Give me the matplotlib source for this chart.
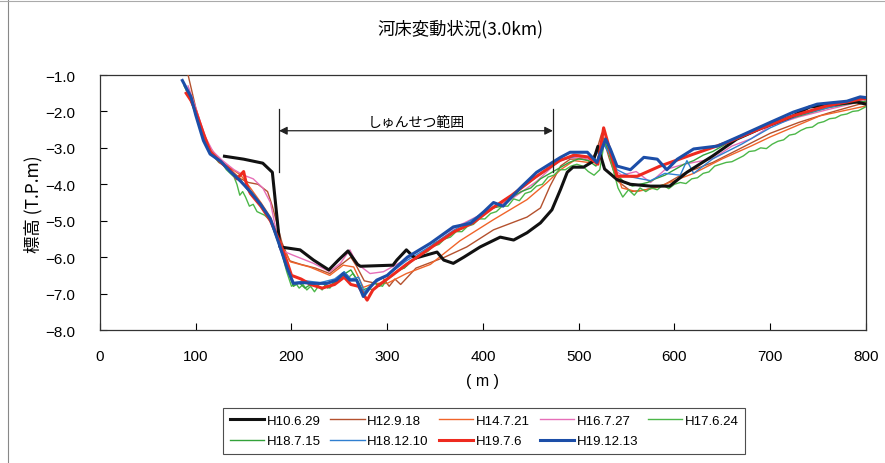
import matplotlib
matplotlib.use("Agg")
import matplotlib.pyplot as plt
from matplotlib.lines import Line2D

plt.rcParams['font.family'] = ['Liberation Sans', 'Noto Sans CJK JP', 'DejaVu Sans']

# ---------------- data ----------------
labels = ["H10.6.29", "H12.9.18", "H14.7.21", "H16.7.27", "H17.6.24",
          "H18.7.15", "H18.12.10", "H19.7.6", "H19.12.13"]

x_h10 = [130, 150, 170, 180, 188, 196, 209, 223, 239, 249, 259, 269, 272, 306, 310, 320, 329,
         352, 359, 369, 380, 397, 418, 432, 446, 460, 472, 481, 488, 494, 505, 515, 520, 527,
         540, 554, 575, 595, 613, 640, 665, 689, 724, 741, 790, 800]
y_h10 = [-3.23, -3.31, -3.42, -3.67, -5.72, -5.75, -5.80, -6.08, -6.35, -6.08, -5.83, -6.20, -6.25,
         -6.22, -6.08, -5.80, -6.03, -5.86, -6.08, -6.17, -6.00, -5.72, -5.45, -5.53, -5.33, -5.06,
         -4.70, -4.14, -3.67, -3.53, -3.53, -3.37, -2.96, -3.58, -3.87, -4.00, -4.05, -4.05, -3.67,
         -3.22, -2.76, -2.48, -2.12, -1.88, -1.74, -1.80]

x_h12 = [92, 100, 108, 115, 126, 136, 147, 155, 165, 175, 180, 190, 198, 210, 225, 240, 252, 262,
         268, 276, 285, 295, 302, 308, 314, 330, 360, 383, 411, 446, 460, 470, 481, 491, 505, 515,
         524, 532, 540, 555, 570, 590, 610, 640, 670, 700, 730, 760, 800]
y_h12 = [-1.00, -1.90, -2.60, -3.05, -3.35, -3.60, -3.85, -3.95, -4.00, -4.20, -4.60, -5.60, -6.10,
         -6.20, -6.30, -6.45, -6.20, -6.00, -6.25, -6.65, -6.70, -6.55, -6.80, -6.60, -6.75, -6.30,
         -6.00, -5.72, -5.25, -4.90, -4.65, -4.05, -3.50, -3.31, -3.30, -3.40, -2.60, -3.30, -3.90,
         -4.20, -4.15, -4.00, -3.70, -3.40, -3.00, -2.60, -2.30, -2.05, -1.75]

x_h14 = [90, 100, 108, 115, 126, 136, 147, 157, 168, 178, 188, 199, 219, 240, 254, 265, 275, 286,
         300, 320, 345, 376, 411, 446, 467, 481, 495, 510, 522, 528, 534, 545, 560, 580, 600, 620,
         650, 680, 700, 752, 800]
y_h14 = [-1.40, -2.00, -2.60, -3.00, -3.35, -3.55, -3.75, -4.10, -4.50, -4.90, -5.60, -6.13, -6.27,
         -6.50, -6.22, -6.27, -6.83, -6.72, -6.72, -6.45, -6.20, -5.55, -4.97, -4.42, -3.95, -3.60,
         -3.35, -3.40, -3.00, -2.70, -3.20, -4.10, -4.20, -4.10, -3.90, -3.70, -3.30, -2.95, -2.70,
         -2.12, -1.85]

x_h16 = [92, 100, 110, 118, 128, 140, 150, 160, 170, 178, 188, 202, 223, 240, 251, 261, 268, 282,
         296, 320, 345, 370, 400, 430, 456, 481, 500, 515, 524, 530, 537, 545, 560, 575, 590, 610,
         640, 660, 680, 700, 730, 760, 800]
y_h16 = [-1.30, -1.90, -2.70, -3.10, -3.35, -3.60, -3.75, -3.85, -4.10, -4.50, -5.80, -5.95, -6.17,
         -6.40, -6.17, -5.80, -6.17, -6.45, -6.40, -6.05, -5.62, -5.20, -4.80, -4.40, -3.92, -3.31,
         -3.25, -3.35, -2.80, -3.00, -3.60, -3.75, -3.65, -3.95, -3.60, -3.45, -3.30, -2.95, -2.75,
         -2.40, -2.15, -1.95, -1.70]

x_h17 = [88, 95, 100, 106, 112, 118, 124, 128, 132, 136, 140, 143, 146, 149, 152, 156, 160, 164,
         168, 172, 176, 180, 185, 190, 195, 200, 204, 208, 212, 216, 220, 224, 228, 232, 236, 240,
         245, 250, 255, 260, 264, 268, 272, 276, 280, 285, 290, 295, 300, 306, 312, 318, 324, 330,
         336, 342, 348, 354, 360, 366, 372, 378, 384, 390, 396, 402, 408, 414, 420, 426, 432, 438,
         444, 450, 456, 462, 468, 474, 480, 486, 492, 498, 504, 510, 516, 522, 527, 531, 536, 541,
         546, 552, 558, 564, 570, 576, 582, 588, 594, 600, 606, 612, 618, 624, 630, 636, 642, 648,
         654, 660, 666, 672, 678, 684, 690, 696, 702, 708, 714, 720, 726, 732, 738, 744, 750, 756,
         762, 768, 774, 780, 786, 792, 800]
y_h17 = [-1.30, -1.70, -2.10, -2.60, -3.00, -3.20, -3.40, -3.45, -3.60, -3.70, -3.80, -4.00, -4.30,
         -4.20, -4.35, -4.60, -4.55, -4.75, -4.80, -4.85, -4.95, -5.10, -5.40, -5.90, -6.40, -6.80,
         -6.70, -6.85, -6.75, -6.90, -6.80, -6.95, -6.80, -6.90, -6.75, -6.85, -6.70, -6.60, -6.40,
         -6.55, -6.45, -6.60, -6.80, -7.00, -6.85, -6.90, -6.75, -6.80, -6.60, -6.50, -6.35, -6.30,
         -6.10, -6.05, -5.90, -5.85, -5.70, -5.65, -5.50, -5.45, -5.30, -5.30, -5.15, -5.10, -4.95,
         -4.95, -4.80, -4.75, -4.60, -4.60, -4.40, -4.45, -4.25, -4.20, -4.05, -4.00, -3.80, -3.75,
         -3.60, -3.60, -3.50, -3.45, -3.50, -3.65, -3.75, -3.60, -2.80, -3.10, -3.60, -4.10, -4.35,
         -4.15, -4.30, -4.10, -4.20, -4.10, -4.15, -4.02, -4.12, -4.00, -3.95, -3.98, -3.85, -3.82,
         -3.70, -3.66, -3.50, -3.45, -3.40, -3.38, -3.30, -3.22, -3.10, -3.08, -3.00, -3.02, -2.90,
         -2.82, -2.78, -2.65, -2.62, -2.52, -2.45, -2.43, -2.32, -2.28, -2.20, -2.18, -2.10, -2.07,
         -2.00, -1.98, -1.87]

x_h18a = [88, 95, 100, 108, 115, 126, 136, 147, 157, 168, 178, 188, 195, 202, 208, 214, 220, 226,
          232, 238, 244, 250, 256, 262, 268, 274, 280, 286, 292, 300, 310, 320, 330, 340, 350, 360,
          370, 380, 390, 400, 410, 420, 430, 440, 450, 460, 470, 480, 490, 500, 510, 518, 523, 528,
          534, 540, 548, 556, 564, 572, 580, 590, 600, 610, 620, 630, 640, 650, 660, 670, 680, 690,
          700, 720, 740, 760, 780, 800]
y_h18a = [-1.30, -1.65, -2.00, -2.65, -3.10, -3.40, -3.65, -3.90, -4.25, -4.60, -5.00, -5.75, -6.30,
          -6.80, -6.70, -6.85, -6.75, -6.80, -6.70, -6.85, -6.70, -6.60, -6.45, -6.35, -6.60, -6.90,
          -6.85, -6.70, -6.80, -6.60, -6.40, -6.25, -6.00, -5.85, -5.60, -5.50, -5.30, -5.20, -5.00,
          -4.85, -4.65, -4.60, -4.35, -4.20, -4.10, -3.85, -3.70, -3.55, -3.40, -3.30, -3.35, -3.50,
          -3.00, -2.90, -3.30, -3.75, -3.95, -4.05, -4.00, -3.95, -3.85, -3.75, -3.60, -3.45, -3.35,
          -3.20, -3.10, -2.95, -2.80, -2.65, -2.55, -2.45, -2.35, -2.20, -2.05, -1.90, -1.80, -1.72]

x_h18b = [87, 100, 108, 115, 126, 136, 147, 157, 168, 178, 188, 195, 202, 215, 230, 245, 255, 262,
          270, 276, 284, 300, 320, 345, 370, 400, 430, 456, 481, 500, 515, 526, 533, 540, 555, 575,
          590, 606, 613, 620, 640, 670, 700, 730, 760, 800]
y_h18b = [-1.20, -2.05, -2.70, -3.15, -3.40, -3.65, -3.90, -4.25, -4.60, -5.00, -5.70, -6.30, -6.70,
          -6.65, -6.70, -6.60, -6.40, -6.60, -6.55, -6.95, -6.75, -6.50, -6.10, -5.70, -5.25, -4.80,
          -4.30, -3.80, -3.35, -3.20, -3.30, -2.90, -3.20, -3.60, -3.80, -3.90, -3.70, -3.75, -3.35,
          -3.70, -3.30, -2.90, -2.45, -2.10, -1.90, -1.65]

x_h19a = [90, 95, 100, 108, 115, 126, 136, 143, 150, 153, 157, 168, 178, 188, 195, 200, 210, 220,
          232, 245, 255, 262, 270, 279, 285, 292, 300, 320, 345, 370, 390, 410, 430, 455, 480, 495,
          510, 520, 526, 533, 540, 561, 585, 620, 655, 689, 724, 759, 797, 800]
y_h19a = [-1.50, -1.70, -2.00, -2.60, -3.10, -3.40, -3.60, -3.85, -3.65, -4.00, -4.25, -4.60, -5.00,
          -5.60, -6.10, -6.50, -6.60, -6.75, -6.85, -6.75, -6.55, -6.75, -6.80, -7.18, -6.90, -6.75,
          -6.60, -6.20, -5.75, -5.30, -5.05, -4.65, -4.30, -3.80, -3.35, -3.20, -3.25, -3.45, -2.45,
          -3.10, -3.78, -3.78, -3.50, -3.17, -2.85, -2.48, -2.12, -1.85, -1.65, -1.65]

x_h19b = [86, 95, 100, 108, 115, 126, 136, 147, 157, 168, 178, 188, 195, 202, 213, 223, 237, 247,
          254, 261, 268, 275, 282, 289, 300, 321, 345, 369, 387, 401, 411, 421, 439, 456, 481, 491,
          509, 519, 528, 533, 540, 554, 568, 582, 592, 603, 620, 645, 669, 700, 724, 749, 780, 794, 800]
y_h19b = [-1.15, -1.60, -2.10, -2.80, -3.17, -3.37, -3.65, -3.92, -4.20, -4.56, -4.95, -5.71, -6.27,
          -6.72, -6.70, -6.72, -6.72, -6.63, -6.45, -6.63, -6.63, -7.08, -6.83, -6.63, -6.50, -6.00,
          -5.62, -5.17, -5.07, -4.75, -4.50, -4.60, -4.10, -3.67, -3.26, -3.12, -3.12, -3.40, -2.76,
          -3.03, -3.50, -3.60, -3.26, -3.31, -3.60, -3.31, -3.03, -2.95, -2.67, -2.30, -2.02, -1.80,
          -1.72, -1.60, -1.62]

xs = [x_h10, x_h12, x_h14, x_h16, x_h17, x_h18a, x_h18b, x_h19a, x_h19b]
ys = [y_h10, y_h12, y_h14, y_h16, y_h17, y_h18a, y_h18b, y_h19a, y_h19b]

colors = ["#111111", "#b4512e", "#f0642a", "#e66fb8", "#4cb748",
          "#33a23a", "#2f7fd0", "#ee2a1f", "#1c4ea8"]
widths = [2.2, 1.0, 1.0, 1.0, 1.0, 1.0, 1.0, 2.2, 2.2]
zorders = [4, 3, 3, 3, 3, 3, 3, 5, 6]

yticks = [-1.0, -2.0, -3.0, -4.0, -5.0, -6.0, -7.0, -8.0]
xticks = [0, 100, 200, 300, 400, 500, 600, 700, 800]

dredge_x = [187, 473]
dredge_label = "しゅんせつ範囲"

# ---------------- figure ----------------
fig = plt.figure(figsize=(8.85, 4.64), dpi=100)
ax = fig.add_axes([0.113, 0.2866, 0.8655, 0.5496])

for x, y, c, w, z, lab in zip(xs, ys, colors, widths, zorders, labels):
    ax.plot(x, y, color=c, lw=w, zorder=z, label=lab, solid_joinstyle='round')

ax.set_xlim(0, 800)
ax.set_ylim(-8.0, -1.0)
ax.set_xticks(xticks)
ax.set_yticks(yticks)
ax.set_xticklabels([str(v) for v in xticks], fontsize=11)
ax.set_yticklabels(["\u2212%.1f" % abs(v) for v in yticks], fontsize=11)
ax.tick_params(axis='both', direction='in', length=5, width=0.8)
ax.tick_params(axis='y', pad=18)
ax.tick_params(axis='x', pad=14)
for s in ax.spines.values():
    s.set_linewidth(0.9)
    s.set_color("#333333")

ax.set_xlabel("( m )", fontsize=11.5, labelpad=7)
fig.text(0.037, 0.56, "標高 (T.P.m)", rotation=90, ha='center', va='center',
         fontsize=12.5, family=['Noto Sans CJK JP', 'DejaVu Sans'])

fig.text(0.52, 0.937, "河床変動状況(3.0km)", ha='center', va='center',
         fontsize=12.5, family=['Noto Sans CJK JP', 'DejaVu Sans'])

# dredging range annotation
for xv in dredge_x:
    ax.plot([xv, xv], [-1.93, -3.67], color="#222222", lw=0.9, zorder=7)
ax.annotate("", xy=(dredge_x[0], -2.53), xytext=(dredge_x[1], -2.53),
            arrowprops=dict(arrowstyle='<|-|>', color="#222222", lw=0.9,
                            shrinkA=0, shrinkB=0, mutation_scale=12), zorder=7)
ax.text(sum(dredge_x) / 2, -2.3, dredge_label, ha='center', va='center', fontsize=10,
        family=['Noto Sans CJK JP', 'DejaVu Sans'])

# legend (row-major order: matplotlib fills columns first)
order = [0, 5, 1, 6, 2, 7, 3, 8, 4]
leg_handles = [Line2D([0], [0], color=colors[i], lw=widths[i]) for i in order]
leg_labels = [labels[i] for i in order]
leg = fig.legend(leg_handles, leg_labels, loc='center', bbox_to_anchor=(0.547, 0.069), ncol=5,
                 fontsize=9.5, frameon=True, fancybox=False, handlelength=2.6,
                 handletextpad=0.2, columnspacing=0.75, labelspacing=0.6,
                 borderpad=0.5, edgecolor="#222222")
leg.get_frame().set_linewidth(0.8)

# outer frame lines (scan border)
fig.add_artist(Line2D([8 / 885, 8 / 885], [0, 1], transform=fig.transFigure,
                      color="#888888", lw=0.8))
fig.add_artist(Line2D([0, 1], [1 - 2 / 464, 1 - 2 / 464], transform=fig.transFigure,
                      color="#aaaaaa", lw=0.8))

fig.savefig("out.png", dpi=100)
